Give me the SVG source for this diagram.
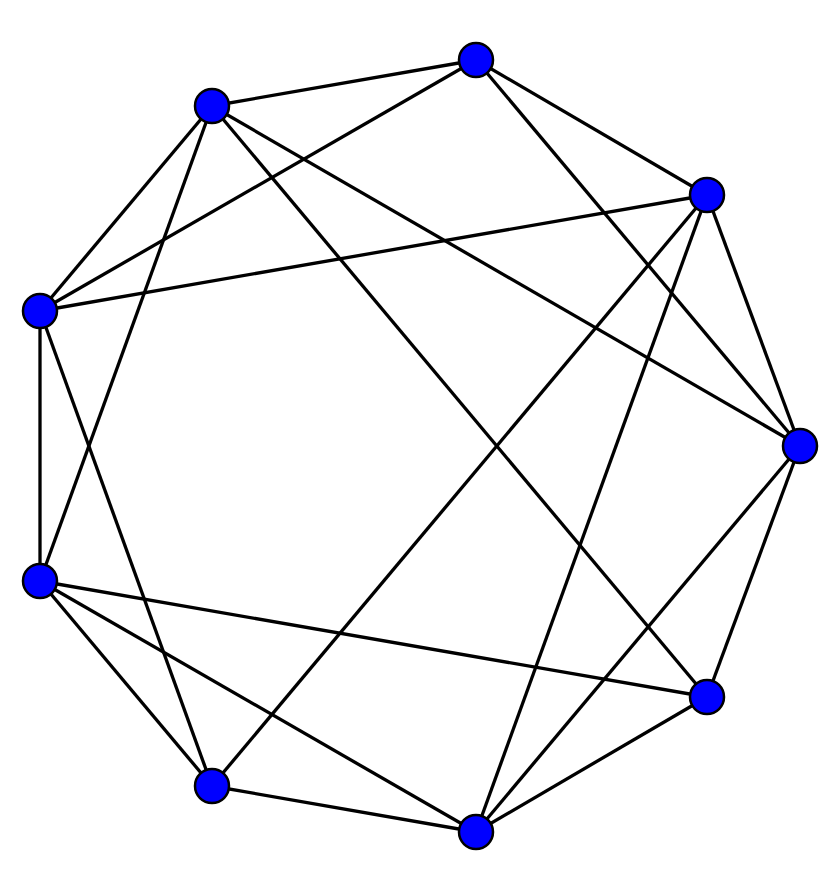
<svg xmlns="http://www.w3.org/2000/svg" width="840" height="893" viewBox="0 0 840 893">
<style>
.e{stroke:#000;stroke-width:3.3;fill:none}
.n{fill:#0000ff;stroke:#000;stroke-width:2.5}
</style>
<rect width="840" height="893" fill="#fff"/>
<g id="edges" class="e">
<line x1="476" y1="60" x2="212" y2="106"/>
<line x1="476" y1="60" x2="40" y2="311"/>
<line x1="476" y1="60" x2="707" y2="195"/>
<line x1="476" y1="60" x2="800" y2="446"/>
<line x1="212" y1="106" x2="40" y2="311"/>
<line x1="212" y1="106" x2="40" y2="581"/>
<line x1="212" y1="106" x2="800" y2="446"/>
<line x1="212" y1="106" x2="707" y2="697"/>
<line x1="707" y1="195" x2="40" y2="311"/>
<line x1="707" y1="195" x2="212" y2="786"/>
<line x1="707" y1="195" x2="476" y2="832"/>
<line x1="707" y1="195" x2="800" y2="446"/>
<line x1="40" y1="311" x2="40" y2="581"/>
<line x1="40" y1="311" x2="212" y2="786"/>
<line x1="800" y1="446" x2="707" y2="697"/>
<line x1="800" y1="446" x2="476" y2="832"/>
<line x1="40" y1="581" x2="707" y2="697"/>
<line x1="40" y1="581" x2="212" y2="786"/>
<line x1="40" y1="581" x2="476" y2="832"/>
<line x1="707" y1="697" x2="476" y2="832"/>
<line x1="212" y1="786" x2="476" y2="832"/>
</g>
<g id="nA"><circle class="n" cx="476" cy="60" r="17"/></g>
<g id="nB"><circle class="n" cx="212" cy="106" r="17"/></g>
<g id="nC"><circle class="n" cx="707" cy="195" r="17"/></g>
<g id="nD"><circle class="n" cx="40" cy="311" r="17"/></g>
<g id="nE"><circle class="n" cx="800" cy="446" r="17"/></g>
<g id="nF"><circle class="n" cx="40" cy="581" r="17"/></g>
<g id="nG"><circle class="n" cx="707" cy="697" r="17"/></g>
<g id="nH"><circle class="n" cx="212" cy="786" r="17"/></g>
<g id="nI"><circle class="n" cx="476" cy="832" r="17"/></g>
</svg>
